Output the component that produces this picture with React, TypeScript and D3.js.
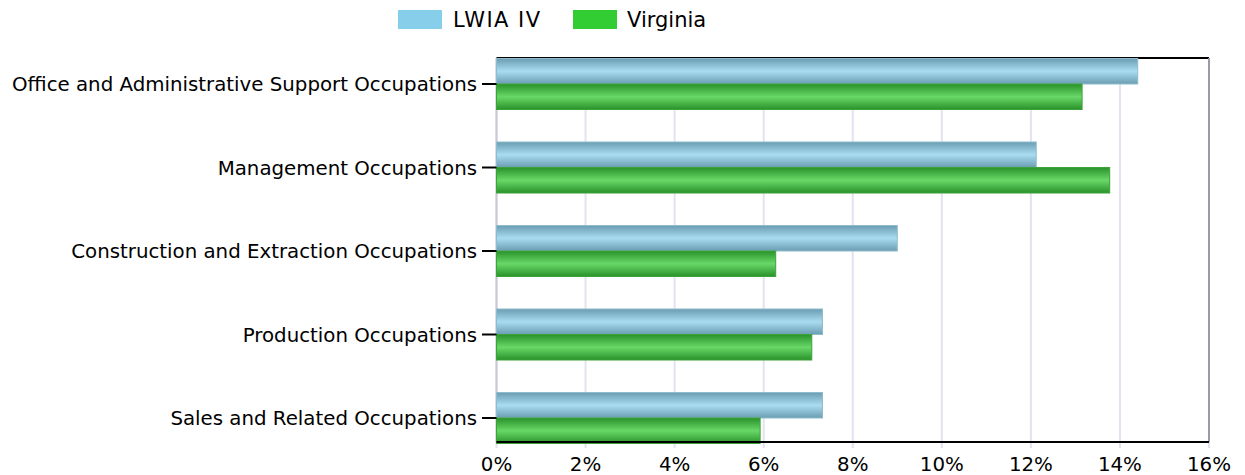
import * as d3 from "d3";

const categories = [
  "Office and Administrative Support Occupations",
  "Management Occupations",
  "Construction and Extraction Occupations",
  "Production Occupations",
  "Sales and Related Occupations",
];
const seriesNames = ["LWIA IV", "Virginia"];
const lwiaValues = [14.4, 12.12, 9.0, 7.32, 7.32];
const virginiaValues = [13.15, 13.77, 6.27, 7.08, 5.92];
const xTicks = [0, 2, 4, 6, 8, 10, 12, 14, 16];

const W = 1245;
const H = 475;
const plot = { left: 496.5, right: 1209, top: 58, bottom: 442 };
const FONT = "'DejaVu Sans', Verdana, sans-serif";

export default function App() {
  const x = d3.scaleLinear().domain([0, 16]).range([plot.left, plot.right]);
  // bands are centred on the labels; first centre at 84, spacing ~83.5
  const y = d3
    .scaleBand<string>()
    .domain(categories)
    .range([42.25, 459.75]);
  const barH = 25.5;
  const center = (c: string) => (y(c) ?? 0) + y.bandwidth() / 2;

  return (
    <svg
      width={W}
      height={H}
      style={{ position: "absolute", left: 0, top: 0, display: "block" }}
      fontFamily={FONT}
    >
      <defs>
        <linearGradient id="gBlue" x1="0" y1="0" x2="0" y2="1">
          <stop offset="0" stopColor="#6b9db2" />
          <stop offset="0.5" stopColor="#a9dcf0" />
          <stop offset="1" stopColor="#6b9db2" />
        </linearGradient>
        <linearGradient id="gGreen" x1="0" y1="0" x2="0" y2="1">
          <stop offset="0" stopColor="#2a922a" />
          <stop offset="0.5" stopColor="#68d868" />
          <stop offset="1" stopColor="#2a922a" />
        </linearGradient>
      </defs>

      {/* legend */}
      <g fontSize={21}>
        <rect x={398} y={10} width={44} height={19} fill="#87ceeb" />
        <text x={453} y={27} fill="#000" textLength={87}>
          {seriesNames[0]}
        </text>
        <rect x={573} y={10} width={44} height={19} fill="#32cd32" />
        <text x={627} y={27} fill="#000">
          {seriesNames[1]}
        </text>
      </g>

      {/* grid */}
      {xTicks.map((t) => (
        <line
          key={t}
          x1={x(t)}
          x2={x(t)}
          y1={plot.top}
          y2={plot.bottom + 6}
          stroke="#e2e2f2"
          strokeWidth={2}
        />
      ))}

      {/* frame */}
      <line x1={plot.left} x2={plot.right} y1={plot.top} y2={plot.top} stroke="#000" strokeWidth={2} />
      <line x1={plot.right} x2={plot.right} y1={plot.top} y2={plot.bottom} stroke="#9a9aa8" strokeWidth={2} />
      <line x1={plot.left} x2={plot.left} y1={plot.top} y2={plot.bottom} stroke="#c8c8d8" strokeWidth={2} />

      {/* bars */}
      {categories.map((c, i) => (
        <g key={c}>
          <rect
            x={x(0)}
            y={center(c) - barH}
            width={x(lwiaValues[i]) - x(0)}
            height={barH}
            fill="url(#gBlue)"
            stroke="#8fbccd"
            strokeWidth={1}
          />
          <rect
            x={x(0)}
            y={center(c)}
            width={x(virginiaValues[i]) - x(0)}
            height={barH}
            fill="url(#gGreen)"
            stroke="#3aa33a"
            strokeWidth={1}
          />
        </g>
      ))}

      {/* bottom axis */}
      <line x1={plot.left} x2={plot.right} y1={plot.bottom} y2={plot.bottom} stroke="#000" strokeWidth={2} />
      <g fontSize={19.8} textAnchor="middle" fill="#000">
        {xTicks.map((t) => (
          <text key={t} x={x(t)} y={470.5}>
            {`${t}%`}
          </text>
        ))}
      </g>

      {/* left axis labels + ticks */}
      <g fontSize={19.8} textAnchor="end" fill="#000">
        {categories.map((c) => (
          <g key={c}>
            <line x1={482} x2={plot.left} y1={center(c)} y2={center(c)} stroke="#000" strokeWidth={2} />
            <text x={477} y={center(c) + 7}>
              {c}
            </text>
          </g>
        ))}
      </g>
    </svg>
  );
}
